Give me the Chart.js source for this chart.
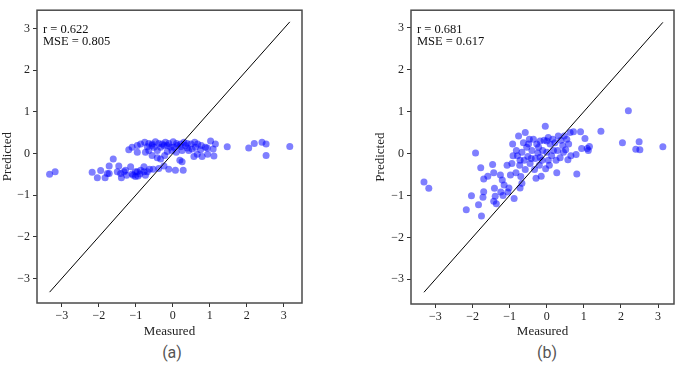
<!DOCTYPE html>
<html>
<head>
<meta charset="utf-8">
<script src="https://cdn.jsdelivr.net/npm/chart.js@4.4.1/dist/chart.umd.min.js"></script>
<style>
  body { margin: 0; background: #fff; width: 678px; height: 371px; position: relative; overflow: hidden; }
  .panel { position: absolute; top: 0; width: 339px; height: 340px; }
  .caption { position: absolute; top: 343px; width: 60px; text-align: center; font: 16px Roboto, sans-serif; color: #555; }
</style>
</head>
<body>
<div class="panel" style="left:0"><canvas id="chartA" width="339" height="340"></canvas></div>
<div class="panel" style="left:339px"><canvas id="chartB" width="339" height="340"></canvas></div>
<div class="caption" style="left:142px">(a)</div>
<div class="caption" style="left:517px">(b)</div>
<script>
// panel (a)
const measuredA = [
  -3.33, -3.18, -2.18, -2.04, -1.95, -1.83, -1.77, -1.72, -1.72, -1.61, -1.46, -1.41, -1.39, -1.32, -1.25, -1.19, -1.14, -1.07, -1.01, -0.96, -0.89, -0.78, -0.74, -0.69, -0.63,
  -1.10, -0.96, -0.87, -0.76, -0.65, -0.56, -0.47, -0.38, -0.29, -0.20, -0.11, 0.01, 0.10, 0.21, 0.30, 0.39, 0.49, 0.59, 0.67, 0.77, 0.88, 1.02, 1.15,
  -0.96, -0.74, -0.56, -0.42, -0.33, -0.22, -0.15, -0.02, 0.09, 0.25, 0.43, 0.57, 0.66, 0.79, 0.94, 1.11, 1.09,
  -0.53, -0.38, -0.24, -0.11, 0.07, 0.28, 0.19, 0.25,
  1.47, 2.05, 2.20, 2.41, 2.52, 2.52, 3.16,
  -0.69, -0.51, -0.33, -0.15, 0.03, 0.21, 0.39, 0.52, -0.42, 0.93, 0.75, -0.56, -0.24, -0.06, 0.12, 0.34, 0.61, -0.65,
  -1.10, -0.87, -1.01, -1.28, -1.50, -0.78, -0.94
];
const predictedA = [
  -0.50, -0.44, -0.45, -0.58, -0.41, -0.58, -0.48, -0.48, -0.30, -0.13, -0.30, -0.48, -0.58, -0.44, -0.52, 0.09, -0.32, -0.52, -0.55, -0.44, -0.49, -0.32, -0.52, -0.44, -0.38,
  0.15, 0.19, 0.23, 0.27, 0.24, 0.23, 0.28, 0.24, 0.23, 0.27, 0.24, 0.28, 0.24, 0.23, 0.27, 0.24, 0.23, 0.27, 0.23, 0.19, 0.15, 0.30, 0.23,
  0.03, 0.03, -0.05, -0.10, -0.13, -0.05, 0.05, 0.07, 0.03, 0.07, 0.07, -0.07, -0.02, -0.07, -0.02, -0.06, 0.11,
  -0.38, -0.36, -0.30, -0.38, -0.40, -0.40, -0.16, -0.20,
  0.16, 0.13, 0.24, 0.27, 0.23, -0.05, 0.17,
  0.16, 0.15, 0.15, 0.19, 0.15, 0.16, 0.13, 0.11, 0.07, 0.13, 0.09, 0.19, 0.19, 0.15, 0.19, 0.19, 0.15, 0.07,
  -0.49, -0.40, -0.44, -0.40, -0.44, -0.44, -0.54
];
const statsA = ['r = 0.622', 'MSE = 0.805'];

// panel (b)
const measuredB = [
  -3.31, -3.18, -2.17, -2.03, -1.92, -1.84, -1.78, -1.76, -1.72, -1.70, -1.70, -1.59, -1.46, -1.43, -1.43, -1.41, -1.39, -1.36, -1.25, -1.24, -1.20, -1.18, -1.15, -1.07, -1.05, -1.02, -0.98, -0.92, -0.91, -0.88,
  -0.83, -0.79, -0.76, -0.73, -0.72, -0.70, -0.67, -0.63, -0.61, -0.58, -0.58, -0.54, -0.51, -0.47, -0.45, -0.40, -0.36, -0.33, -0.31, -0.29,
  -0.27, -0.24, -0.20, -0.18, -0.15, -0.13, -0.11, -0.07, -0.04, -0.03, 0.00, 0.04, 0.07, 0.09, 0.13, 0.16, 0.18, 0.25, 0.27, 0.29,
  0.36, 0.38, 0.43, 0.47, 0.51, 0.54, 0.57, 0.59, 0.63, 0.65, 0.72, 0.79, 0.81, 0.91, 0.94, 1.03, 1.09, 1.12, 1.15, 1.46,
  2.04, 2.20, 2.40, 2.49, 2.51, 3.13,
  -0.49, -0.22, 0.00, 0.22, 0.31, 0.45, -0.72, -0.82, -0.42, -0.18, 0.04, -0.67, -0.94
];
const predictedB = [
  -0.68, -0.83, -1.34, -1.01, 0.01, -1.22, -0.34, -1.49, -1.04, -0.91, -0.61, -0.54, -0.26, -0.46, -1.14, -0.83, -1.02, -1.20, -0.51, -0.92, -0.63, -1.00, -0.75, -0.28, -0.92, -0.82, -0.51, 0.23, -0.05, -1.07,
  -0.46, -0.05, 0.42, -0.28, -0.82, -0.55, -0.71, 0.26, -0.16, 0.50, -0.38, 0.15, -0.07, 0.34, -0.24, 0.07, 0.34, -0.38, -0.12, -0.59,
  0.23, 0.01, -0.28, 0.30, -0.54, -0.16, 0.07, 0.32, 0.65, -0.36, 0.03, 0.38, -0.28, 0.23, -0.05, 0.34, 0.07, -0.16, -0.46, 0.07,
  -0.10, 0.32, 0.19, 0.42, 0.09, 0.34, -0.15, 0.23, 0.50, -0.05, 0.52, -0.02, -0.49, 0.52, 0.12, 0.36, 0.12, 0.07, 0.17, 0.53,
  0.26, 1.02, 0.10, 0.28, 0.09, 0.16,
  0.23, 0.15, 0.30, 0.26, 0.42, 0.03, -0.16, 0.07, -0.12, -0.09, -0.16, 0.03, -0.24
];
const statsB = ['r = 0.681', 'MSE = 0.617'];

const SERIF = '"Liberation Serif", "DejaVu Serif", serif';

function toPoints(xs, ys) {
  const n = Math.min(xs.length, ys.length);
  return xs.slice(0, n).map((x, i) => ({ x, y: ys[i] }));
}

// y = x reference line spanning the measured range
function identityLine(xs) {
  const lo = Math.min(...xs);
  const hi = Math.max(...xs);
  return [{ x: lo, y: lo }, { x: hi, y: hi }];
}

const fmtTick = v => (v < 0 ? '\u2212' + Math.abs(v) : String(v));

// box around the plot area, like matplotlib spines
const framePlugin = {
  id: 'frame',
  afterDraw(chart) {
    const { ctx, chartArea: a } = chart;
    ctx.save();
    ctx.strokeStyle = '#4a4a4a';
    ctx.lineWidth = 1.5;
    ctx.strokeRect(a.left, a.top, a.right - a.left, a.bottom - a.top);
    ctx.restore();
  }
};

// r / MSE text in the top-left corner
const statsPlugin = {
  id: 'stats',
  afterDraw(chart, args, opts) {
    const { ctx, chartArea: a } = chart;
    ctx.save();
    ctx.fillStyle = '#111';
    ctx.font = '12.5px ' + SERIF;
    ctx.textBaseline = 'middle';
    (opts.lines || []).forEach((line, i) => ctx.fillText(line, a.left + 6, a.top + 20 + i * 12));
    ctx.restore();
  }
};

function makeChart(id, measured, predicted, lines, box) {
  const tickFont = { family: SERIF, size: 12 };
  const titleFont = { family: SERIF, size: 13 };
  return new Chart(document.getElementById(id), {
    type: 'scatter',
    data: {
      datasets: [
        {
          data: identityLine(measured),
          showLine: true,
          borderColor: '#000',
          borderWidth: 1,
          pointRadius: 0,
          order: 0
        },
        {
          data: toPoints(measured, predicted),
          backgroundColor: 'rgba(0, 0, 255, 0.5)',
          borderWidth: 0,
          pointRadius: 3.5,
          order: 1
        }
      ]
    },
    options: {
      responsive: false,
      animation: false,
      events: [],
      layout: { padding: box.padding },
      plugins: {
        legend: { display: false },
        tooltip: { enabled: false },
        stats: { lines }
      },
      scales: {
        x: {
          min: box.xMin, max: box.xMax,
          afterFit: s => { s.height = box.xHeight; },
          ticks: { stepSize: 1, includeBounds: false, callback: fmtTick, font: tickFont, color: '#222', padding: 2, maxRotation: 0 },
          grid: { drawOnChartArea: false, tickLength: 4, color: '#333' },
          border: { display: false },
          title: { display: true, text: 'Measured', font: titleFont, color: '#222', padding: { top: 0, bottom: 1 } }
        },
        y: {
          min: box.yMin, max: box.yMax,
          afterFit: s => { s.width = box.yWidth; },
          ticks: { stepSize: 1, includeBounds: false, callback: fmtTick, font: tickFont, color: '#222', padding: 3 },
          grid: { drawOnChartArea: false, tickLength: 4, color: '#333' },
          border: { display: false },
          title: { display: true, text: 'Predicted', font: titleFont, color: '#222', padding: { top: 0, bottom: 0 } }
        }
      }
    },
    plugins: [framePlugin, statsPlugin]
  });
}

makeChart('chartA', measuredA, predictedA, statsA, {
  padding: { left: 0, right: 37, top: 3, bottom: 0 },
  yWidth: 37, xHeight: 37,
  xMin: -3.67, xMax: 3.49, yMin: -3.59, yMax: 3.44
});

makeChart('chartB', measuredB, predictedB, statsB, {
  padding: { left: 34, right: 3, top: 3, bottom: 0 },
  yWidth: 38, xHeight: 36,
  xMin: -3.66, xMax: 3.43, yMin: -3.59, yMax: 3.42
});
</script>
</body>
</html>
